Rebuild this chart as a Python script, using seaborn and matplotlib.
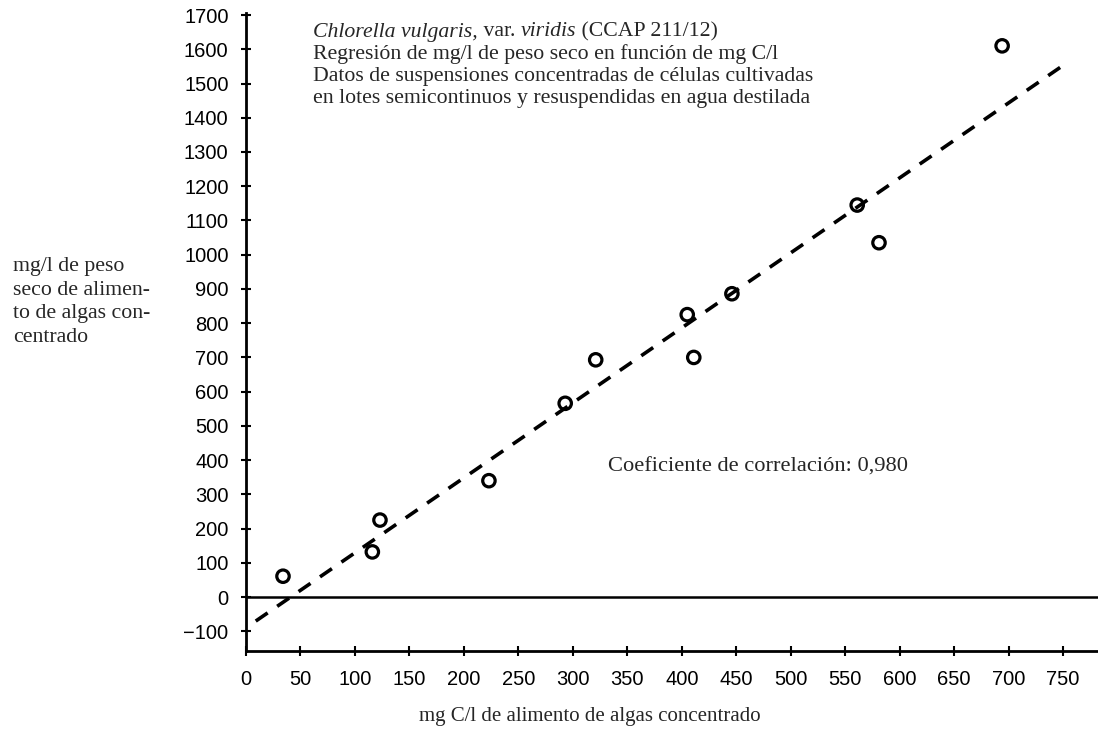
"""
Regresión de peso seco frente a carbono, Chlorella vulgaris.
"""
import pandas as pd
import matplotlib
matplotlib.use("Agg")
import matplotlib.pyplot as plt
import seaborn as sns

# Datos
carbono = [34, 116, 123, 223, 293, 321, 405, 411, 446, 561, 581, 694]
peso_seco = [61, 132, 225, 340, 566, 693, 825, 700, 886, 1145, 1035, 1610]

# Recta de regresión (extremos)
recta_x = [9, 750]
recta_y = [-70, 1553]

x_ticks = list(range(0, 751, 50))
y_ticks = list(range(-100, 1701, 100))
y_tick_labels = ["\u2212100" if v < 0 else str(v) for v in y_ticks]

SERIF = ["Liberation Serif", "DejaVu Serif"]
SANS = ["Liberation Sans", "DejaVu Sans"]
FS = 15.7

sns.set_theme(style="white")
plt.rcParams["font.family"] = SANS


def put_runs(fig, x, y, runs):
    """Write text pieces one after another on the same line."""
    for texto, estilo in runs:
        t = fig.text(x, y, texto, family=SERIF, style=estilo, fontsize=FS,
                     va="center")
        fig.canvas.draw()
        x = t.get_window_extent().x1 / fig.bbox.width


def main():
    df = pd.DataFrame({"carbono": carbono, "peso": peso_seco})
    fit = pd.DataFrame({"x": recta_x, "y": recta_y})

    fig = plt.figure(figsize=(10.98, 7.40), dpi=100)
    ax = fig.add_axes([0.224, 0.120, 0.776, 0.862])

    sns.lineplot(data=fit, x="x", y="y", ax=ax, color="black",
                 linewidth=2.6, linestyle=(0, (4, 3.2)))
    sns.scatterplot(data=df, x="carbono", y="peso", ax=ax, s=80,
                    facecolors="none", edgecolor="black", linewidth=2.3,
                    marker="o", zorder=3)
    ax.axhline(0, color="black", linewidth=1.8, zorder=1)

    ax.set_xlim(0, 782)
    ax.set_ylim(-158, 1705)
    ax.set_xticks(x_ticks)
    ax.set_yticks(y_ticks)
    ax.set_yticklabels(y_tick_labels)
    ax.tick_params(axis="both", direction="inout", length=7, width=1.5,
                   colors="black", labelsize=14.5, left=True, bottom=True)
    ax.tick_params(axis="y", pad=9)
    ax.tick_params(axis="x", pad=10)

    for side in ["top", "right"]:
        ax.spines[side].set_visible(False)
    for side in ["left", "bottom"]:
        ax.spines[side].set_color("black")
        ax.spines[side].set_linewidth(2)

    ax.set_xlabel("")
    ax.set_ylabel("")

    # Bloque de texto del título
    x0 = 313 / 1098
    put_runs(fig, x0, 1 - 32 / 740, [
        ("Chlorella vulgaris,", "italic"),
        (" var. ", "normal"),
        ("viridis", "italic"),
        (" (CCAP 211/12)", "normal"),
    ])
    lineas = [
        "Regresión de mg/l de peso seco en función de mg C/l",
        "Datos de suspensiones concentradas de células cultivadas",
        "en lotes semicontinuos y resuspendidas en agua destilada",
    ]
    for i, linea in enumerate(lineas):
        fig.text(x0, 1 - (54 + 22 * i) / 740, linea, family=SERIF,
                 fontsize=FS, va="center")

    fig.text(608 / 1098, 1 - 467 / 740, "Coeficiente de correlación: 0,980",
             family=SERIF, fontsize=16.2, va="center")

    fig.text(13 / 1098, 1 - 302 / 740,
             "mg/l de peso\nseco de alimen-\nto de algas con-\ncentrado",
             family=SERIF, fontsize=FS, va="center", linespacing=1.33)

    fig.text(590 / 1098, 1 - 716 / 740,
             "mg C/l de alimento de algas concentrado",
             family=SERIF, fontsize=15, ha="center", va="center")

    fig.savefig("out.png", dpi=100)


if __name__ == "__main__":
    main()
